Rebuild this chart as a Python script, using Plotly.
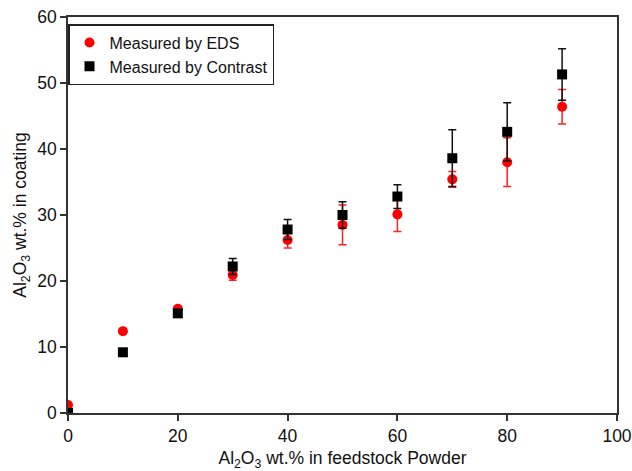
import plotly.graph_objects as go

feed = [0, 10, 20, 30, 40, 50, 60, 70, 80, 90]
eds = [1.2, 12.4, 15.8, 20.9, 26.2, 28.5, 30.1, 35.4, 38.0, 46.4]
eds_err = [None, None, None, 0.8, 1.2, 3.0, 2.6, 1.2, 3.7, 2.6]
contrast = [0.0, 9.2, 15.1, 22.2, 27.8, 30.0, 32.8, 38.6, 42.6, 51.3]
contrast_err = [None, None, None, 1.2, 1.5, 2.0, 1.8, 4.3, 4.4, 3.9]

font_family = "Liberation Sans, Arial, sans-serif"

fig = go.Figure()
fig.add_trace(go.Scatter(
    x=feed, y=eds, mode="markers", name="Measured by EDS",
    marker=dict(symbol="circle", size=10, color="#ff0000"),
    error_y=dict(type="data", array=eds_err, visible=True, color="#ff2020",
                 thickness=1.5, width=4),
))
fig.add_trace(go.Scatter(
    x=feed, y=contrast, mode="markers", name="Measured by Contrast",
    marker=dict(symbol="square", size=10, color="#000000"),
    error_y=dict(type="data", array=contrast_err, visible=True, color="#111111",
                 thickness=1.5, width=4),
))

axis_common = dict(
    showline=True, linecolor="#333333", linewidth=1.5, mirror=True,
    ticks="outside", ticklen=6, tickwidth=1.5, tickcolor="#333333",
    showgrid=False, zeroline=False,
    tickfont=dict(family=font_family, size=17.5, color="#111111"),
)

fig.update_xaxes(range=[0, 100], tickvals=[0, 20, 40, 60, 80, 100],
                 title=dict(text="Al<sub>2</sub>O<sub>3</sub> wt.% in feedstock Powder",
                            font=dict(family=font_family, size=17.5, color="#111111"),
                            standoff=8),
                 **axis_common)
fig.update_yaxes(range=[0, 60], tickvals=[0, 10, 20, 30, 40, 50, 60],
                 title=dict(text="Al<sub>2</sub>O<sub>3</sub> wt.% in coating",
                            font=dict(family=font_family, size=17.5, color="#111111"),
                            standoff=6),
                 **axis_common)

fig.update_layout(
    width=632, height=471,
    margin=dict(l=68, r=15, t=17, b=58, autoexpand=False),
    paper_bgcolor="white", plot_bgcolor="white",
    font=dict(family=font_family, size=16, color="#111111"),
    legend=dict(x=0.0, y=0.982, xanchor="left", yanchor="top",
                bordercolor="#222222", borderwidth=1.5, bgcolor="white",
                font=dict(family=font_family, size=16, color="#111111"),
                itemwidth=30),
    showlegend=True,
)

fig.write_html("out.html")
